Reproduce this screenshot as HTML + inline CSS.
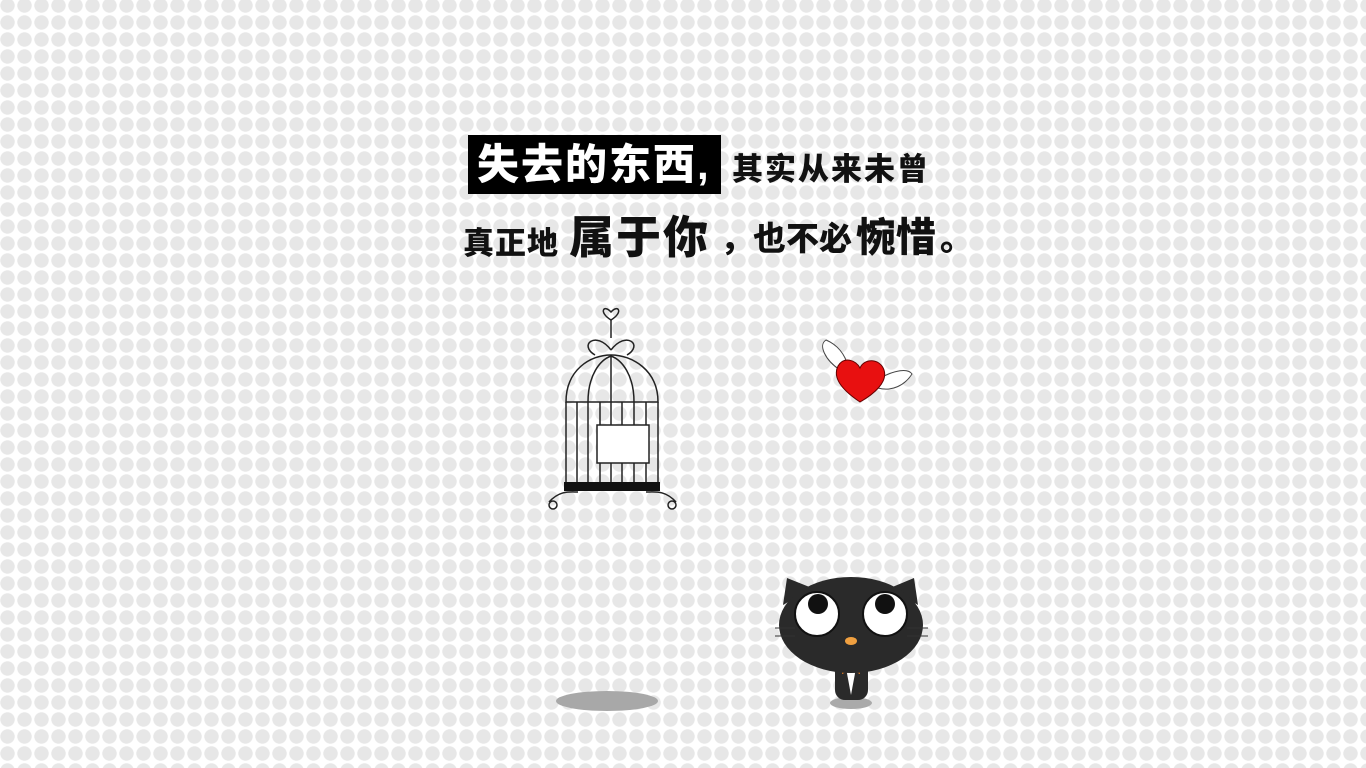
<!DOCTYPE html>
<html><head><meta charset="utf-8"><style>
html,body{margin:0;padding:0;width:1366px;height:768px;overflow:hidden;background:#fff}
#bg{position:absolute;left:0;top:0;width:1366px;height:768px;background-image:radial-gradient(circle at 8.5px 8.5px,#e7e7e7 6.8px,#fff 7.6px);background-size:17px 17px;background-position:-1px -3px}
.t{position:absolute;font-family:"Liberation Sans","Noto Sans CJK SC",sans-serif;font-weight:900;color:#111;white-space:nowrap;line-height:1}
</style></head><body>
<div id="bg"></div>
<div style="position:absolute;left:468px;top:135px;width:253px;height:59px;background:#000"></div>
<div class="t" style="left:477px;top:144px;font-size:42px;color:#fff;letter-spacing:2px">失去的东西,</div>
<div class="t" style="left:732px;top:154px;font-size:31px;letter-spacing:2px">其实从来未曾</div>
<div class="t" style="left:463px;top:228px;font-size:31px;letter-spacing:1px">真正地</div>
<div class="t" style="left:569px;top:215px;font-size:45px;letter-spacing:2px">属于你</div>
<div class="t" style="left:720px;top:222px;font-size:33px">，也不必</div>
<div class="t" style="left:856px;top:218px;font-size:40px">惋惜</div>
<div class="t" style="left:940px;top:222px;font-size:34px">。</div>

<svg width="1366" height="768" style="position:absolute;left:0;top:0">
<g fill="none" stroke="#222" stroke-width="1.5">
<path d="M611 312 C604 304,598 312,611 320 C624 312,618 304,611 312Z"/>
<line x1="611" y1="320" x2="611" y2="338"/>
<path d="M611 350 C596 330,578 345,595 355 M611 350 C626 330,644 345,627 355"/>
<path d="M566 402 C566 370,590 355,611 355 C632 355,658 370,658 402 Z"/>
<line x1="566" y1="402" x2="566" y2="485"/><line x1="658" y1="402" x2="658" y2="485"/>
<path d="M577 402V485M588 402V485M600 402V485M611 355V485M622 402V485M634 402V485M646 402V485M588 402C588 375,600 360,611 356M634 402C634 375,622 360,611 356"/>
<rect x="597" y="425" width="52" height="38" fill="#fff"/>
<path d="M549 502 C560 490,570 492,578 492 M676 502 C665 490,655 492,646 492"/>
<circle cx="553" cy="505" r="4"/><circle cx="672" cy="505" r="4"/>
</g>
<rect x="564" y="482" width="96" height="9" fill="#111"/>
<ellipse cx="607" cy="701" rx="51" ry="10" fill="#a8a8a8"/>
<g>
<path d="M840 370 C825 360,818 345,826 340 C838 345,845 355,848 366Z" fill="#fff" stroke="#444"/>
<path d="M880 378 C895 370,908 368,912 374 C905 385,892 392,878 388Z" fill="#fff" stroke="#444"/>
<path d="M860 402 C842 390,832 378,838 366 C844 356,856 360,860 368 C864 358,880 358,884 370 C888 382,874 394,860 402Z" fill="#e81010" stroke="#600" stroke-width="1"/>
</g>
<g>
<ellipse cx="851" cy="703" rx="21" ry="6" fill="#aaa"/>
<rect x="835" y="660" width="33" height="40" rx="10" fill="#2a2a2a"/>
<path d="M846 668 L851 695 L856 668Z" fill="#fff"/>
<path d="M842 666 L851 670 L842 674Z M860 666 L851 670 L860 674Z" fill="#f08020"/>
<path d="M783 605 L787 578 L812 588Z M918 605 L914 578 L890 588Z" fill="#2a2a2a"/>
<ellipse cx="851" cy="625" rx="72" ry="48" fill="#2a2a2a"/>
<circle cx="817" cy="614" r="22" fill="#fff" stroke="#111" stroke-width="2"/>
<circle cx="885" cy="614" r="22" fill="#fff" stroke="#111" stroke-width="2"/>
<circle cx="818" cy="604" r="10" fill="#111"/><circle cx="885" cy="604" r="10" fill="#111"/>
<ellipse cx="851" cy="641" rx="6" ry="4" fill="#f0a040"/>
<path d="M775 628H795M775 636H795M907 628H928M907 636H928" stroke="#333" stroke-width="1"/>
</g>
</svg>
</body></html>
